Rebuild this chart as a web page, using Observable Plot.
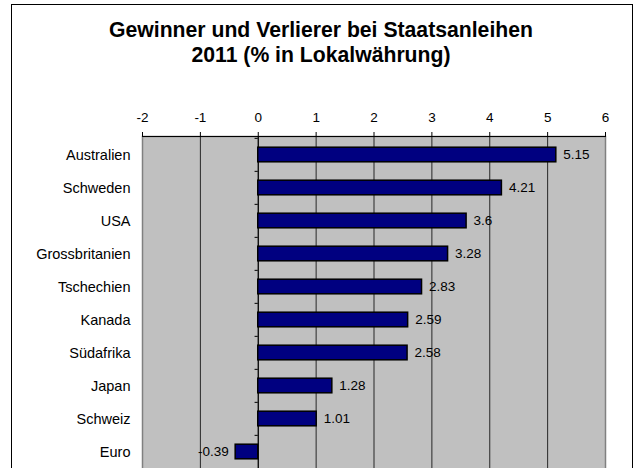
<!DOCTYPE html>
<html>
<head>
<meta charset="utf-8">
<script src="https://cdn.jsdelivr.net/npm/d3@7"></script>
<script src="https://cdn.jsdelivr.net/npm/@observablehq/plot@0.6"></script>
<style>
  body { margin: 0; background: #fff; }
  #wrap { position: relative; width: 640px; height: 468px; overflow: hidden; background: #fff; font-family: "Liberation Sans", Arial, sans-serif; }
  #border { position: absolute; left: 11px; top: 4px; width: 622px; height: 520px; border: 1px solid #000; box-sizing: border-box; }
  #title { position: absolute; left: 0; top: 17px; width: 642px; text-align: center; font-weight: bold; font-size: 21.2px; line-height: 25px; color: #000; }
  #chart { position: absolute; left: 0; top: 80px; }
  #chart svg g[aria-label="x-axis tick label"] text { font-size: 13.5px; }
</style>
</head>
<body>
<div id="wrap">
  <div id="border"></div>
  <div id="title">Gewinner und Verlierer bei Staatsanleihen<br>2011 (% in Lokalwährung)</div>
  <div id="chart"></div>
</div>
<script>
const countries = ["Australien", "Schweden", "USA", "Grossbritanien", "Tschechien", "Kanada", "Südafrika", "Japan", "Schweiz", "Euro"];
const values = [5.15, 4.21, 3.6, 3.28, 2.83, 2.59, 2.58, 1.28, 1.01, -0.39];
const xTicks = [-2, -1, 0, 1, 2, 3, 4, 5, 6];

const data = countries.map((c, i) => ({country: c, value: values[i]}));
const pos = data.filter(d => d.value >= 0);
const neg = data.filter(d => d.value < 0);

const height = 389;
const marginTop = 56;
const step = (height - marginTop) / countries.length;

const chart = Plot.plot({
  width: 640,
  height,
  marginTop,
  marginBottom: 0,
  marginLeft: 142,
  marginRight: 35,
  style: {fontFamily: "'Liberation Sans', Arial, sans-serif", fontSize: "13.5px", color: "#000", background: "transparent"},
  x: {domain: [-2, 6], ticks: xTicks, axis: null},
  y: {domain: countries, padding: 0, axis: null},
  marks: [
    Plot.frame({fill: "#C0C0C0", stroke: "#808080", strokeWidth: 1.5}),
    Plot.ruleX(xTicks.slice(1, -1), {stroke: "#000", strokeWidth: 1, strokeOpacity: 0.8}),
    Plot.ruleX([0], {stroke: "#000", strokeWidth: 1}),
    Plot.ruleY(countries, {y: d => d, x1: -0.055, x2: 0, dy: -step / 2, stroke: "#000", strokeWidth: 1}),
    Plot.frame({anchor: "top", stroke: "#000", strokeWidth: 1}),
    Plot.axisX({anchor: "top", ticks: xTicks, tickSize: 5, tickPadding: 10, fontSize: 13.5, label: null, tickFormat: d => String(d)}),
    Plot.axisY({anchor: "left", tickSize: 0, tickPadding: 12, fontSize: 14.5, label: null}),
    Plot.barX(data, {x: "value", y: "country", fill: "#000080", stroke: "#000", strokeWidth: 1.5, insetTop: 9.2, insetBottom: 9.2}),
    Plot.text(pos, {x: "value", y: "country", text: d => String(d.value), textAnchor: "start", dx: 7, fontSize: 13.5, fill: "#000"}),
    Plot.text(neg, {x: "value", y: "country", text: d => String(d.value), textAnchor: "end", dx: -7, fontSize: 13.5, fill: "#000"})
  ]
});
document.getElementById("chart").appendChild(chart);
</script>
</body>
</html>
